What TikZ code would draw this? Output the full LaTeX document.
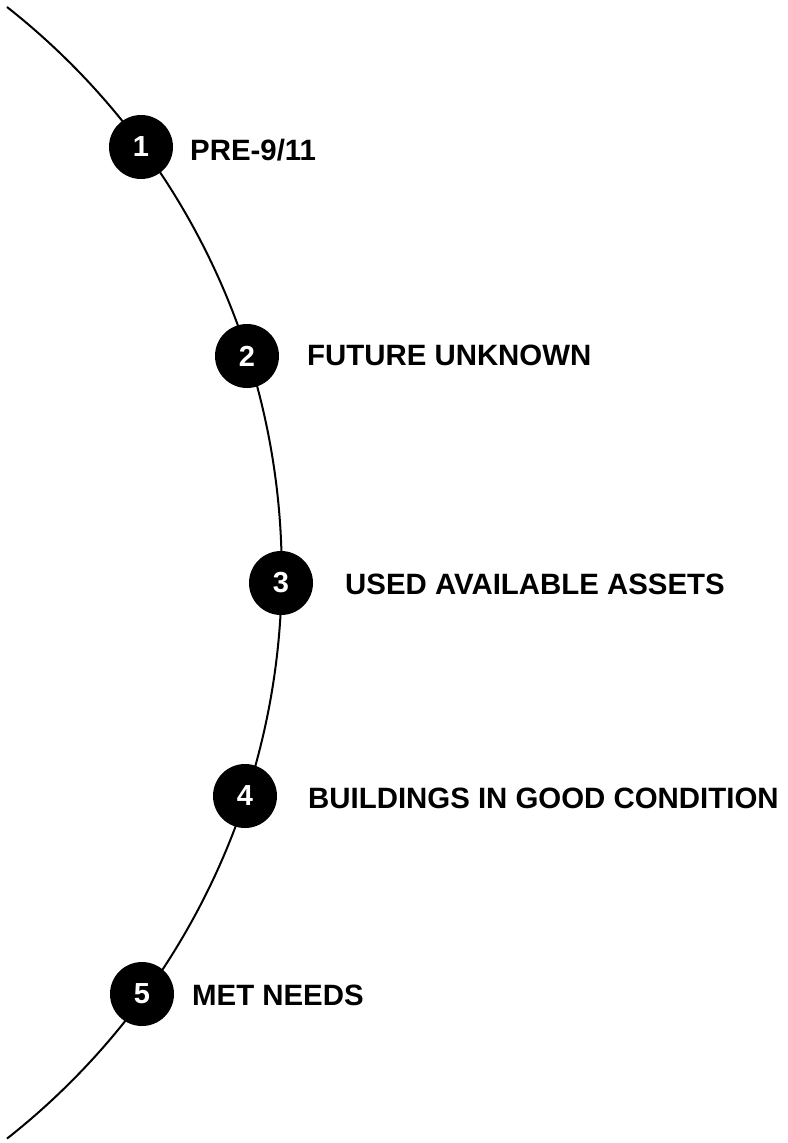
\documentclass[tikz,border=0pt]{standalone}
\usepackage{fontspec}
\setmainfont{Liberation Sans}
\begin{document}
\begin{tikzpicture}[x=1pt,y=1pt,
  curve/.style={line width=2pt, black},
  num/.style={circle, fill=black, text=white, minimum size=64pt, inner sep=0pt,
    font=\bfseries\fontsize{29}{31}\selectfont},
  lab/.style={anchor=base west, inner sep=0pt, text=black,
    font=\bfseries\fontsize{29.4}{31}\selectfont}]
\useasboundingbox (0,0) rectangle (787,-1143);
\coordinate (top) at (7,-7);
\draw[curve] (top) arc[start angle=51.8, end angle=-51.8, radius=720pt] coordinate (bottom);
\node[num] (n1) at (141,-147) {1};
\node[num] (n2) at (247,-356) {2};
\node[num] (n3) at (281,-583) {3};
\node[num] (n4) at (245,-796) {4};
\node[num] (n5) at (142,-994) {5};
\node[lab] (t1) at (190,-160) {PRE-9/11};
\node[lab] (t2) at (307,-365) {FUTURE UNKNOWN};
\node[lab] (t3) at (345,-594) {USED AVAILABLE ASSETS};
\node[lab] (t4) at (308,-808) {BUILDINGS IN GOOD CONDITION};
\node[lab] (t5) at (192,-1005) {MET NEEDS};
\end{tikzpicture}
\end{document}
